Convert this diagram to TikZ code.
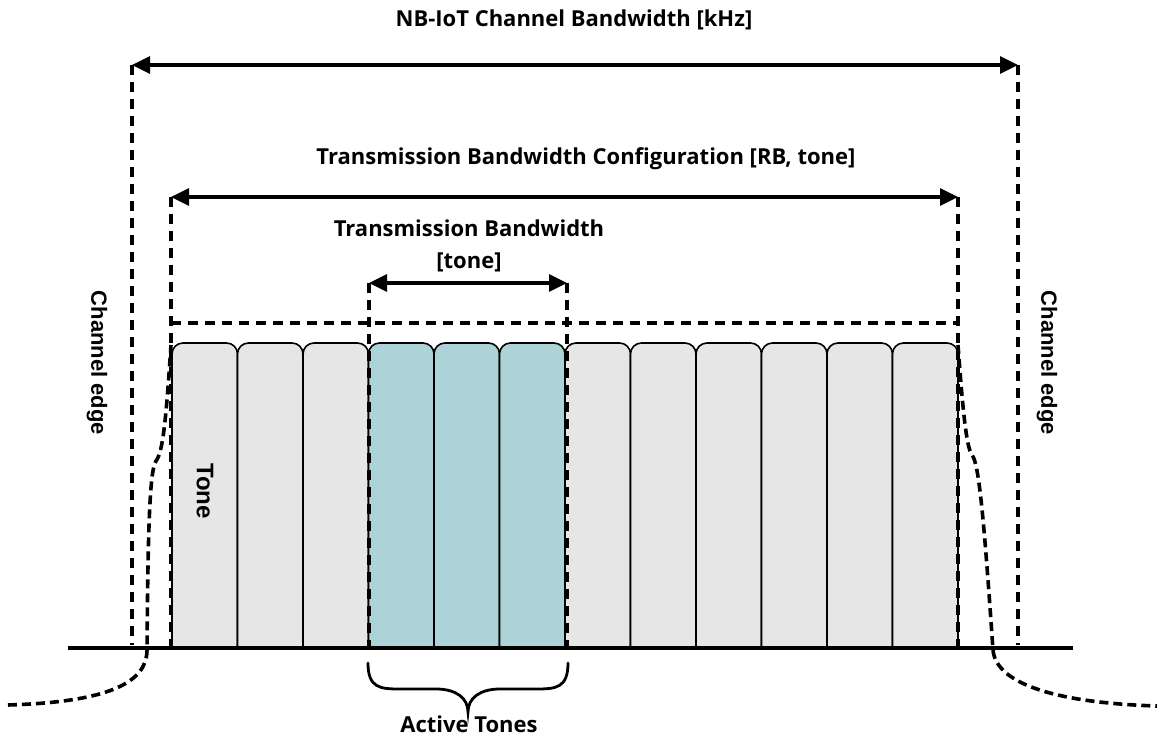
\documentclass[tikz,border=0pt]{standalone}
\usepackage{fontspec}
\setmainfont{Open Sans}
\newfontfamily\arialfont{Liberation Sans}
\usetikzlibrary{arrows.meta}
\definecolor{tonegray}{HTML}{E6E6E6}
\definecolor{toneteal}{HTML}{ACD4D8}
\tikzset{
  dim/.style={line width=3.3pt,{Triangle[length=18pt,width=17pt]}-{Triangle[length=18pt,width=17pt]}},
  dline/.style={line width=3.6pt,dash pattern=on 10pt off 7pt},
  tonebox/.style={line width=1.6pt,rounded corners=11pt},
  title/.style={font=\fontsize{22}{26}\selectfont\bfseries,inner sep=0pt},
  side/.style={font=\arialfont\fontsize{22}{26}\selectfont\bfseries,inner sep=0pt,rotate=-90},
}
\begin{document}
\begin{tikzpicture}[x=1pt,y=-1pt]
\useasboundingbox (0,0) rectangle (1157,738);
% tones
\foreach \i in {0,...,11}{
  \pgfmathsetmacro{\xa}{172+65.5*\i}
  \pgfmathsetmacro{\xb}{172+65.5*(\i+1)}
  \ifnum\i>2 \ifnum\i<6 \def\tc{toneteal}\else\def\tc{tonegray}\fi\else\def\tc{tonegray}\fi
  \draw[tonebox,fill=\tc] (\xa,648) -- (\xa,343) -- (\xb,343) -- (\xb,648);
}
\node[side,font=\arialfont\fontsize{24}{28}\selectfont\bfseries] (tonelbl) at (205,491) {Tone};
% coordinates
\coordinate (cl) at (132,65);  \coordinate (cr) at (1018,65);
\coordinate (cl0) at (132,645); \coordinate (cr0) at (1018,645);
\coordinate (tl) at (171,197); \coordinate (tr) at (958,197);
\coordinate (tl0) at (171,648); \coordinate (tr0) at (958,648);
\coordinate (al) at (369,283); \coordinate (ar) at (567,283);
\coordinate (al0) at (369,648); \coordinate (ar0) at (567,648);
\coordinate (rtl) at (171,323); \coordinate (rtr) at (958,323);
\coordinate (bl) at (68,648); \coordinate (br) at (1073,648);
% dashed verticals
\draw[dline] (cl) -- (cl0);
\draw[dline] (cr) -- (cr0);
\draw[dline] (tl) -- (tl0);
\draw[dline] (tr) -- (tr0);
\draw[dline] (rtl) -- (rtr);
\draw[dline] (al) -- (al0);
\draw[dline] (ar) -- (ar0);
% arrows
\draw[dim] (cl) -- (cr);
\draw[dim] (tl) -- (tr);
\draw[dim] (al) -- (ar);
% baseline
\draw[line width=3.3pt] (bl) -- (br);
% spectrum roll-off curves
\draw[dline,dash pattern=on 9pt off 5pt] (8,705) .. controls (110,702) and (147,682) .. (147,650)
  .. controls (148,520) and (150,470) .. (156,461) .. controls (163,452) and (166,420) .. (171,345);
\draw[dline,dash pattern=on 9pt off 5pt] (958,345) .. controls (962,400) and (966,448) .. (972,455)
  .. controls (979,463) and (984,520) .. (993,650) .. controls (996,685) and (1060,703) .. (1157,706);
% brace
\coordinate (brl) at (368,663); \coordinate (brr) at (568,663); \coordinate (brt) at (468,712);
\draw[line width=2.8pt,line cap=round] (brl) .. controls (368,688) and (380,689) .. (400,689) -- (436,689)
  .. controls (456,689) and (468,698) .. (brt)
  .. controls (468,698) and (480,689) .. (500,689) -- (536,689)
  .. controls (556,689) and (568,688) .. (brr);
% texts
\node[title] (t1) at (574,20) {NB-IoT Channel Bandwidth [kHz]};
\node[title] (t2) at (586,159) {Transmission Bandwidth Configuration [RB, tone]};
\node[title,align=center] (t3) at (469,246) {Transmission Bandwidth\\[6pt][tone]};
\node[title] (t4) at (469,724) {Active Tones};
\node[side] (ce1) at (97,363) {Channel edge};
\node[side] (ce2) at (1047,363) {Channel edge};
\end{tikzpicture}
\end{document}
